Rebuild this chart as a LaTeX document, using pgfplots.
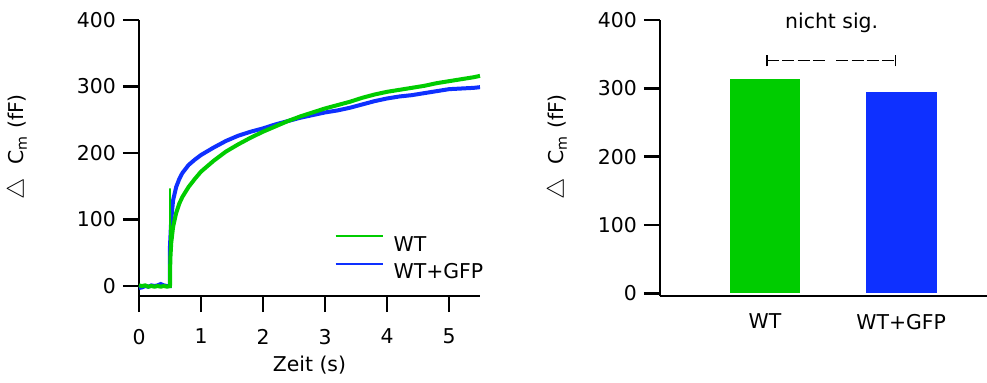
\documentclass[border=0pt]{standalone}
\usepackage{pgfplots}
\pgfplotsset{compat=1.18}
\usepackage{fontspec}
\setmainfont{DejaVu Sans}
\definecolor{wtgreen}{RGB}{0,204,0}
\definecolor{gfpblue}{RGB}{14,48,255}
\newcommand{\cmlabel}{{\fontsize{12.5pt}{12.5pt}\selectfont$\triangle$}\hspace{7pt}C\textsubscript{m} (fF)}
\begin{document}
\begin{tikzpicture}[font=\fontsize{10.2pt}{12pt}\selectfont]
\path[use as bounding box] (-69.5pt,-43pt) rectangle (424pt,148pt);
\pgfplotsset{
  every axis/.append style={
    scale only axis,
    axis x line=bottom, axis y line=left,
    axis line style={-, line width=1.3pt},
    every tick/.style={black, line width=1.3pt},
    tick align=outside,
    major tick length=8pt,
    /pgf/number format/assume math mode=true,
    tick label style={font=\fontsize{10.2pt}{12pt}\selectfont},
    label style={font=\fontsize{10.2pt}{12pt}\selectfont},
    ymax=400, ytick={0,100,200,300,400},
    height=138pt,
  }
}
% ---------- left: traces ----------
\begin{axis}[
  at={(0pt,0pt)}, anchor=south west,
  width=170.5pt,
  xmin=0, xmax=5.5, ymin=-15,
  xtick={0,1,2,3,4,5},
  xticklabel style={yshift=-5pt},
  xlabel={Zeit (s)},
  xlabel style={at={(rel axis cs:0.5,-0.25)}, anchor=center},
  ylabel={\cmlabel},
  ylabel style={at={(rel axis cs:-0.355,0.54)}, anchor=center},
  clip=false,
  legend style={draw=none, fill=none, at={(rel axis cs:0.572,0.222)}, anchor=north west,
    inner sep=0pt, row sep=5.8pt, column sep=5pt,
    nodes={inner sep=0pt, text height=7.4pt, text depth=0pt},
    font=\fontsize{10.2pt}{12pt}\selectfont},
  legend cell align=left,
  legend image code/.code={\draw[#1] (0pt,3.7pt) -- (23.5pt,3.7pt);},
]
\addlegendimage{wtgreen, line width=1.1pt}
\addlegendentry{WT}
\addlegendimage{gfpblue, line width=1.1pt}
\addlegendentry{WT+GFP}
% WT+GFP trace
\addplot[gfpblue, line width=2pt, forget plot] coordinates {
(0,-3) (0.05,-2) (0.1,0) (0.15,-1) (0.2,1) (0.25,0) (0.3,1) (0.35,3) (0.4,1) (0.45,0) (0.5,0)
(0.5,60) (0.52,100) (0.55,129) (0.6,149) (0.65,161) (0.7,170) (0.8,182) (0.9,190)
(1.0,197) (1.2,208) (1.4,218) (1.6,226) (1.8,232) (2.0,237) (2.2,243) (2.4,248)
(2.6,253) (2.8,257) (3.0,261) (3.2,264) (3.4,268) (3.6,273) (3.8,278) (4.0,282)
(4.2,285) (4.4,287) (4.6,290) (4.8,293) (5.0,296) (5.2,297) (5.4,298) (5.5,299)};
% WT spike
\addplot[wtgreen, line width=0.9pt, forget plot] coordinates {(0.5,0) (0.5,147) (0.505,45)};
% WT trace
\addplot[wtgreen, line width=2pt, forget plot] coordinates {
(0,1) (0.05,0) (0.1,1) (0.15,-1) (0.2,0) (0.25,-1) (0.3,0) (0.35,-1) (0.4,0) (0.45,-1) (0.5,0)
(0.505,40) (0.52,65) (0.55,89) (0.6,110) (0.65,124) (0.7,134) (0.8,149) (0.9,161)
(1.0,172) (1.2,188) (1.4,202) (1.6,213) (1.8,223) (2.0,232) (2.2,240) (2.4,248)
(2.6,255) (2.8,261) (3.0,267) (3.2,272) (3.4,277) (3.6,283) (3.8,288) (4.0,292)
(4.2,295) (4.4,298) (4.6,301) (4.8,305) (5.0,308) (5.2,311) (5.4,314) (5.5,316)};
\end{axis}
% ---------- right: bars ----------
\begin{axis}[
  at={(260.5pt,0pt)}, anchor=south west,
  width=163.5pt,
  xmin=-0.77, xmax=1.63, ymin=-4,
  xtick={0,1}, xticklabels={WT,WT+GFP},
  x tick style={draw=none},
  xticklabel style={yshift=2.5pt},
  ylabel={\cmlabel},
  ylabel style={at={(rel axis cs:-0.312,0.54)}, anchor=center},
  clip=false,
]
\addplot[ybar, bar width=35.35pt, bar shift=0pt, fill=wtgreen, draw=none] coordinates {(0,313)};
\addplot[ybar, bar width=35.35pt, bar shift=0pt, fill=gfpblue, draw=none] coordinates {(1,295)};
% significance bracket
\addplot[black, line width=0.7pt, dash pattern=on 6pt off 1.6pt] coordinates {(0.017,340.5) (0.458,340.5)};
\addplot[black, line width=0.7pt, dash pattern=on 6pt off 1.6pt] coordinates {(0.524,340.5) (0.958,340.5)};
\addplot[black, line width=0.9pt] coordinates {(0.017,332) (0.017,349)};
\addplot[black, line width=0.9pt] coordinates {(0.958,332) (0.958,349)};
\node[anchor=base] at (axis cs:0.49,388) {nicht sig.};
\end{axis}
\end{tikzpicture}
\end{document}
